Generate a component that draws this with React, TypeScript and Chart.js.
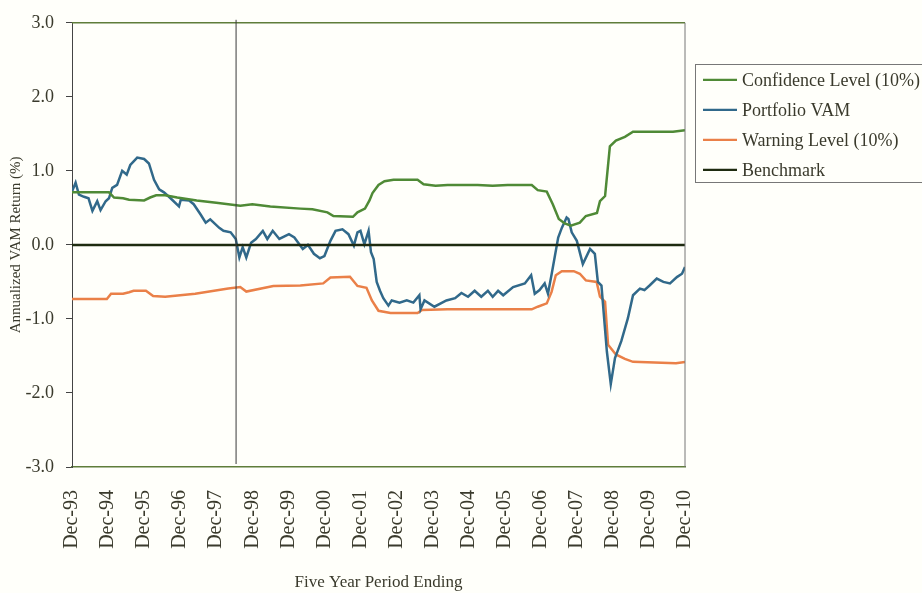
import React, { useEffect, useRef } from "react";
import { Chart, registerables } from "chart.js";

Chart.register(...registerables);

// Month index 0 = Dec-93, 204 = Dec-10
const xTickLabels = [
  "Dec-93", "Dec-94", "Dec-95", "Dec-96", "Dec-97", "Dec-98", "Dec-99", "Dec-00", "Dec-01",
  "Dec-02", "Dec-03", "Dec-04", "Dec-05", "Dec-06", "Dec-07", "Dec-08", "Dec-09", "Dec-10",
];

const seriesNames = ["Confidence Level (10%)", "Portfolio VAM", "Warning Level (10%)", "Benchmark"];

const vamMonths = [
  0, 1.2, 2.3, 4, 5.5, 6.8, 8.4, 9.5, 11.2, 12.3, 13.4, 15, 16.7, 18.2, 19.4, 21.7, 24, 25.6, 27.3, 29,
  30.6, 32.8, 35.6, 36.2, 39, 40.5, 42.8, 44.5, 46, 49, 50.4, 52.8, 54.5, 55.7, 56.8, 58, 59.6, 61.2, 63.5, 65,
  66.8, 69, 72.2, 74, 76.8, 78.5, 80.5, 82.5, 84, 86, 87.7, 90, 92, 93.8, 95, 96, 97.3, 98.7, 99.5, 100.4,
  101.4, 102.5, 103.6, 105.3, 106.4, 109, 111.4, 113.6, 115.6, 116, 117.3, 120.6, 124.6, 127.5, 129.6, 131.8, 134, 136.2, 138.4, 140,
  141.8, 143.5, 146.8, 150.7, 152.8, 154, 155.6, 157.3, 158.4, 159.6, 160.7, 161.8, 163, 164.6, 165.2, 166.3, 168, 170, 172.4, 174,
  175, 176.2, 178, 179.3, 180.7, 182.8, 185, 186.7, 189, 190.5, 192.3, 194.6, 196.8, 199, 201.3, 203, 204,
];
const vamValues = [
  0.72, 0.84, 0.68, 0.65, 0.63, 0.46, 0.59, 0.47, 0.59, 0.63, 0.77, 0.81, 1.0, 0.95, 1.08, 1.18, 1.16, 1.1, 0.88, 0.75,
  0.71, 0.63, 0.52, 0.61, 0.6, 0.55, 0.41, 0.3, 0.345, 0.23, 0.19, 0.17, 0.08, -0.17, -0.03, -0.17, 0.03, 0.08, 0.19, 0.08,
  0.19, 0.08, 0.145, 0.1, -0.055, 0.0, -0.12, -0.18, -0.15, 0.055, 0.19, 0.21, 0.145, -0.01, 0.17, 0.19, 0.01, 0.19, -0.1, -0.19,
  -0.5, -0.62, -0.72, -0.82, -0.75, -0.78, -0.75, -0.78, -0.68, -0.87, -0.75, -0.835, -0.75, -0.72, -0.65, -0.7, -0.62, -0.7, -0.62, -0.7,
  -0.62, -0.68, -0.57, -0.52, -0.41, -0.66, -0.61, -0.52, -0.66, -0.4, -0.15, 0.1, 0.23, 0.37, 0.35, 0.17, 0.055, -0.26, -0.055, -0.12,
  -0.5, -0.55, -1.44, -1.88, -1.53, -1.3, -0.99, -0.68, -0.59, -0.61, -0.545, -0.455, -0.5, -0.52, -0.435, -0.39, -0.3,
];

const confMonths = [
  0, 12.3, 14, 17, 19, 24, 26, 28, 31, 35, 41.5, 48, 56, 60, 66, 76, 80, 85, 87, 93.5,
  95, 97.5, 99, 100, 102, 104, 107, 115, 117, 121, 125, 135, 140, 145, 153, 155, 158, 160, 162, 164,
  166, 169, 171, 174.7, 175.7, 177.4, 179, 181, 184, 186.7, 195, 200, 204,
];
const confValues = [
  0.71, 0.71, 0.64, 0.63, 0.61, 0.6, 0.64, 0.67, 0.67, 0.64, 0.6, 0.57, 0.53, 0.55, 0.52, 0.49, 0.48, 0.44, 0.39, 0.38,
  0.44, 0.49, 0.6, 0.7, 0.81, 0.86, 0.88, 0.88, 0.82, 0.8, 0.81, 0.81, 0.8, 0.81, 0.81, 0.74, 0.72, 0.55, 0.35, 0.29,
  0.26, 0.3, 0.39, 0.43, 0.59, 0.66, 1.33, 1.41, 1.46, 1.53, 1.53, 1.53, 1.55,
];

const warnMonths = [
  0, 11.6, 13, 17, 19, 20.5, 24.6, 27, 31, 41, 52, 56, 58, 67, 76, 83.6, 86, 92.5, 95, 98,
  99.8, 102, 106, 115, 116.5, 125, 135, 145, 153, 155, 158, 159.6, 161, 163, 167, 169, 171, 174.6, 175.7, 177.4,
  178.4, 181, 184, 186.7, 201, 204,
];
const warnValues = [
  -0.73, -0.73, -0.66, -0.66, -0.64, -0.62, -0.62, -0.69, -0.7, -0.66, -0.59, -0.57, -0.63, -0.555, -0.55, -0.52, -0.44, -0.43, -0.555, -0.58,
  -0.75, -0.89, -0.92, -0.92, -0.88, -0.87, -0.87, -0.87, -0.87, -0.835, -0.79, -0.635, -0.41, -0.355, -0.355, -0.39, -0.48, -0.5, -0.7, -0.77,
  -1.35, -1.48, -1.54, -1.58, -1.6, -1.58,
];

const benchMonths = [0, 204];
const benchValues = [0, 0];

const markerMonth = 54.6;

const COLORS = {
  conf: "#4f8a36",
  vam: "#31698a",
  warn: "#ea8048",
  bench: "#1e2b10",
};

const BG = "#fffffa";
const FONT = "'Liberation Serif', 'DejaVu Serif', serif";

function pts(xs: number[], ys: number[]) {
  return xs.map((x, i) => ({ x, y: ys[i] }));
}

export default function App() {
  const ref = useRef<HTMLCanvasElement | null>(null);

  useEffect(() => {
    document.body.style.margin = "0";
    document.body.style.background = BG;
    const canvas = ref.current;
    if (!canvas) return;

    const bgPlugin = {
      id: "bg",
      beforeDraw(chart: any) {
        const ctx = chart.ctx;
        ctx.save();
        ctx.fillStyle = BG;
        ctx.fillRect(0, 0, chart.width, chart.height);
        ctx.restore();
      },
    };

    const framePlugin = {
      id: "frame",
      afterDraw(chart: any) {
        const ctx = chart.ctx;
        const a = chart.chartArea;
        const xs = chart.scales.x;
        ctx.save();
        ctx.strokeStyle = "#5f7d3a";
        ctx.lineWidth = 1.5;
        ctx.beginPath();
        ctx.moveTo(a.left, a.top);
        ctx.lineTo(a.right, a.top);
        ctx.stroke();
        ctx.strokeStyle = "#777";
        ctx.lineWidth = 1;
        ctx.beginPath();
        ctx.moveTo(a.right, a.top);
        ctx.lineTo(a.right, a.bottom);
        ctx.stroke();
        // vertical marker
        const mx = xs.getPixelForValue(markerMonth);
        ctx.strokeStyle = "#3a3a3a";
        ctx.lineWidth = 1;
        ctx.beginPath();
        ctx.moveTo(mx, a.top - 3);
        ctx.lineTo(mx, a.bottom - 3);
        ctx.stroke();

        // legend
        const colors = [COLORS.conf, COLORS.vam, COLORS.warn, COLORS.bench];
        const bx = a.right + 10;
        const by = a.top + 41;
        ctx.strokeStyle = "#777";
        ctx.lineWidth = 1;
        ctx.strokeRect(Math.round(bx) + 0.5, Math.round(by) + 0.5, 260, 118);
        ctx.font = `18px ${FONT}`;
        ctx.textBaseline = "middle";
        ctx.textAlign = "left";
        seriesNames.forEach((name, i) => {
          const y = by + 16 + i * 30;
          ctx.strokeStyle = colors[i];
          ctx.lineWidth = 2.2;
          ctx.beginPath();
          ctx.moveTo(bx + 8, y);
          ctx.lineTo(bx + 42, y);
          ctx.stroke();
          ctx.fillStyle = "#3a3a2c";
          ctx.fillText(name, bx + 47, y + 1);
        });
        ctx.restore();
      },
    };

    const chart = new Chart(canvas, {
      type: "line",
      data: {
        datasets: [
          {
            label: seriesNames[3],
            data: pts(benchMonths, benchValues),
            borderColor: COLORS.bench,
            borderWidth: 2.5,
            pointRadius: 0,
          },
          {
            label: seriesNames[0],
            data: pts(confMonths, confValues),
            borderColor: COLORS.conf,
            borderWidth: 2.5,
            pointRadius: 0,
          },
          {
            label: seriesNames[1],
            data: pts(vamMonths, vamValues),
            borderColor: COLORS.vam,
            borderWidth: 2.5,
            pointRadius: 0,
          },
          {
            label: seriesNames[2],
            data: pts(warnMonths, warnValues),
            borderColor: COLORS.warn,
            borderWidth: 2.5,
            pointRadius: 0,
          },
        ],
      },
      options: {
        animation: false,
        responsive: false,
        layout: { padding: { left: 0, top: 18, right: 237, bottom: 0 } },
        plugins: {
          legend: { display: false },
          tooltip: { enabled: false },
        },
        scales: {
          x: {
            type: "linear",
            min: 0,
            max: 204,
            afterFit: (s: any) => {
              s.height = 126;
            },
            grid: { display: false, drawTicks: false },
            border: { display: true, color: "#5f7d3a", width: 1.5 },
            ticks: {
              stepSize: 12,
              autoSkip: false,
              minRotation: 90,
              maxRotation: 90,
              padding: 23,
              color: "#3a3a2c",
              font: { family: FONT, size: 20 },
              callback: (v: any) => xTickLabels[Math.round(Number(v) / 12)] ?? "",
            },
            title: {
              display: true,
              text: "Five Year Period Ending",
              color: "#3a3a2c",
              font: { family: FONT, size: 17 },
              padding: { top: 0, bottom: 0 },
            },
          },
          y: {
            min: -3,
            max: 3,
            afterFit: (s: any) => {
              s.width = 72;
            },
            grid: {
              drawOnChartArea: false,
              drawTicks: true,
              tickLength: 6,
              color: "#444",
            },
            border: { display: true, color: "#444", width: 1 },
            ticks: {
              stepSize: 1,
              padding: 12,
              color: "#3a3a2c",
              font: { family: FONT, size: 18 },
              callback: (v: any) => Number(v).toFixed(1),
            },
            title: {
              display: true,
              text: "Annualized VAM Return (%)",
              color: "#3a3a2c",
              font: { family: FONT, size: 15 },
              padding: { top: 7, bottom: 0 },
            },
          },
        },
      },
      plugins: [bgPlugin, framePlugin],
    });

    return () => chart.destroy();
  }, []);

  return (
    <div style={{ width: 922, height: 593 }}>
      <canvas ref={ref} width={922} height={593} style={{ display: "block" }} />
    </div>
  );
}
